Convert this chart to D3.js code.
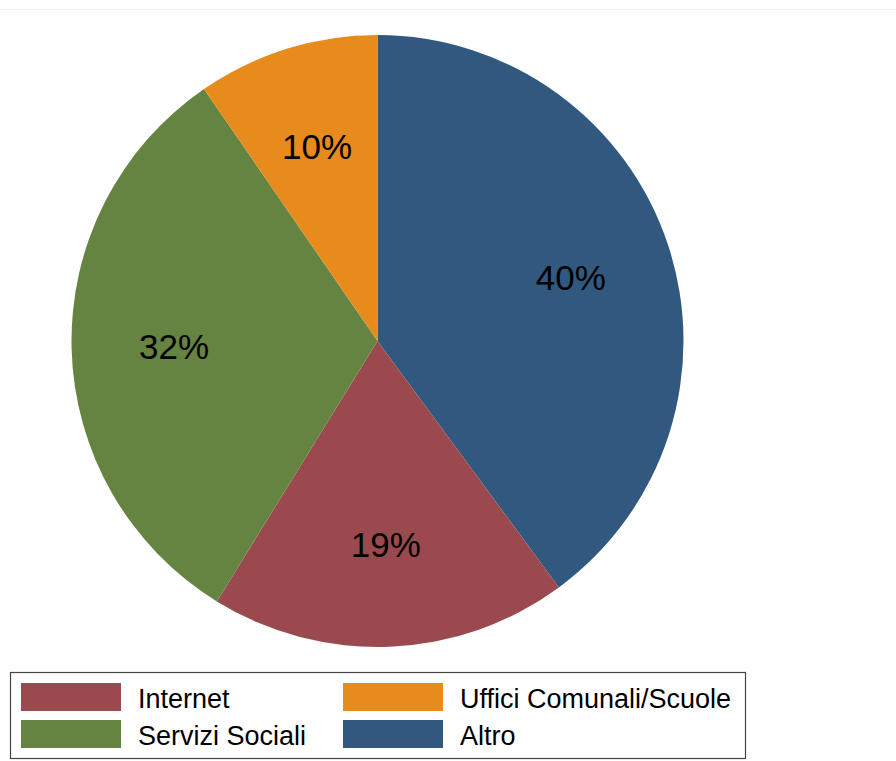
<!DOCTYPE html>
<html>
<head>
<meta charset="utf-8">
<script src="https://cdn.jsdelivr.net/npm/d3@7/dist/d3.min.js"></script>
<style>
  html, body { margin: 0; padding: 0; background: #fff; }
  svg { display: block; font-family: "Liberation Sans", Arial, Helvetica, sans-serif; }
</style>
</head>
<body>
<svg id="chart" width="896" height="761"></svg>
<script>
// Slice order runs clockwise from 12 o'clock
const categories = ["Altro", "Internet", "Servizi Sociali", "Uffici Comunali/Scuole"];
const shares = [39.9, 18.9, 31.6, 9.6];
const colors = ["#31587e", "#9a4a4f", "#668441", "#e68b1c"];
// Legend reads row by row, two columns
const legendOrder = ["Internet", "Uffici Comunali/Scuole", "Servizi Sociali", "Altro"];

const svg = d3.select("#chart");
const W = 896, H = 761;

// thin rule along the top of the graph area
svg.append("line")
  .attr("x1", 0).attr("x2", W).attr("y1", 9.5).attr("y2", 9.5)
  .attr("stroke", "#efefef").attr("stroke-width", 1);

const cx = 377.5, cy = 341, R = 306;
const color = d3.scaleOrdinal().domain(categories).range(colors);
const total = d3.sum(shares);
const data = categories.map((c, i) => ({ name: c, value: shares[i] }));

const pie = d3.pie().value(d => d.value).sort(null);
const arc = d3.arc().innerRadius(0).outerRadius(R);
const labelArc = d3.arc().innerRadius(R * 0.665).outerRadius(R * 0.665);
const arcs = pie(data);

const g = svg.append("g").attr("transform", `translate(${cx},${cy})`);
g.selectAll("path.slice").data(arcs).join("path")
  .attr("class", "slice")
  .attr("d", arc)
  .attr("fill", d => color(d.data.name));

const fmt = d3.format(".0f");
g.selectAll("text.pct").data(arcs).join("text")
  .attr("class", "pct")
  .attr("transform", d => `translate(${labelArc.centroid(d)})`)
  .attr("text-anchor", "middle")
  .attr("dy", "0.36em")
  .attr("font-size", 35)
  .attr("fill", "#000")
  .text(d => fmt(d.data.value / total * 100) + "%");

// Legend
const lg = svg.append("g");
lg.append("rect")
  .attr("x", 10.5).attr("y", 672.5).attr("width", 735).attr("height", 86)
  .attr("fill", "#fff").attr("stroke", "#444").attr("stroke-width", 1.2);

const colX = [21, 343];
const rowY = [683, 720];
legendOrder.forEach((name, i) => {
  const col = i % 2, row = Math.floor(i / 2);
  const item = lg.append("g").attr("transform", `translate(${colX[col]},${rowY[row]})`);
  item.append("rect")
    .attr("width", 100).attr("height", 28)
    .attr("fill", color(name));
  item.append("text")
    .attr("x", 117).attr("y", 15)
    .attr("dy", "0.36em")
    .attr("font-size", 27)
    .attr("fill", "#000")
    .text(name);
});
</script>
</body>
</html>
